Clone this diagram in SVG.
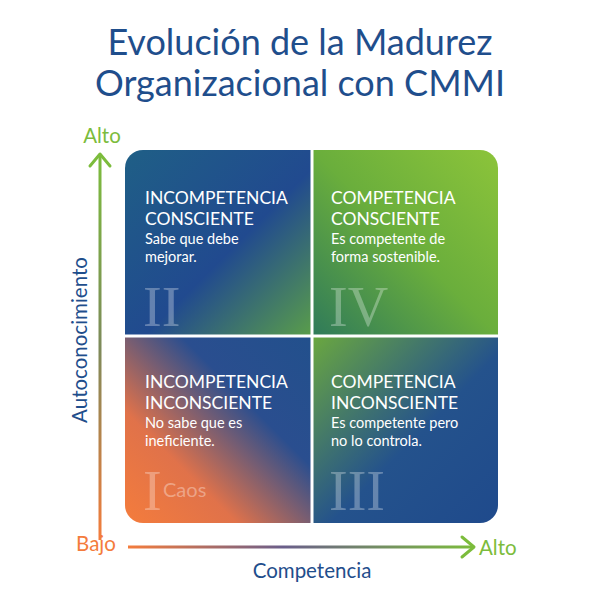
<svg xmlns="http://www.w3.org/2000/svg" width="600" height="600" viewBox="0 0 600 600">
<defs>
<linearGradient id="gTL" x1="0" y1="0" x2="1" y2="1"><stop offset="0" stop-color="#1f5f86"/><stop offset="0.55" stop-color="#214a8f"/><stop offset="1" stop-color="#5a9e4a"/></linearGradient>
<linearGradient id="gTR" x1="0" y1="1" x2="1" y2="0"><stop offset="0" stop-color="#2f7a5a"/><stop offset="0.5" stop-color="#6aae3c"/><stop offset="1" stop-color="#8cc43a"/></linearGradient>
<linearGradient id="gBL" x1="0" y1="1" x2="1" y2="0"><stop offset="0" stop-color="#f47c3c"/><stop offset="0.3" stop-color="#e0724a"/><stop offset="0.65" stop-color="#2a4e8f"/><stop offset="1" stop-color="#22508c"/></linearGradient>
<linearGradient id="gBR" x1="0" y1="0" x2="1" y2="1"><stop offset="0" stop-color="#6ba83f"/><stop offset="0.55" stop-color="#24528c"/><stop offset="1" stop-color="#1f4a8c"/></linearGradient>
<linearGradient id="gV" x1="0" y1="1" x2="0" y2="0"><stop offset="0" stop-color="#f47c3c"/><stop offset="0.5" stop-color="#7d8a5a"/><stop offset="1" stop-color="#7cbc3c"/></linearGradient>
<linearGradient id="gH" x1="0" y1="0" x2="1" y2="0"><stop offset="0" stop-color="#f47c3c"/><stop offset="0.45" stop-color="#6a5e8a"/><stop offset="1" stop-color="#7cbc3c"/></linearGradient>
<clipPath id="c"><rect x="125" y="150" width="373" height="373" rx="18"/></clipPath>
<style>
.t{font-family:Lato,"Open Sans",sans-serif;}
.h{font-family:Lato,sans-serif;font-size:17.5px;fill:#fff;}
.s{font-family:Lato,sans-serif;font-size:14.5px;fill:#fff;}
.r{font-family:"Liberation Serif",serif;font-size:56px;fill:#fff;fill-opacity:0.3;}
</style>
</defs>
<g id="title" class="t" fill="#1f4e8c" font-size="36" text-anchor="middle">
<text x="300" y="55">Evolución de la Madurez</text>
<text x="300" y="96">Organizacional con CMMI</text>
</g>
<g id="matrix" clip-path="url(#c)">
<rect x="125" y="150" width="187" height="186" fill="url(#gTL)"/>
<rect x="312" y="150" width="186" height="186" fill="url(#gTR)"/>
<rect x="125" y="336" width="187" height="187" fill="url(#gBL)"/>
<rect x="312" y="336" width="186" height="187" fill="url(#gBR)"/>
<line x1="312" y1="150" x2="312" y2="523" stroke="#fff" stroke-width="3"/>
<line x1="125" y1="336" x2="498" y2="336" stroke="#fff" stroke-width="3"/>
</g>
<g id="q2"><text class="h" x="145" y="204">INCOMPETENCIA</text><text class="h" x="145" y="225">CONSCIENTE</text><text class="s" x="145" y="244">Sabe que debe</text><text class="s" x="145" y="262">mejorar.</text><text class="r" x="143" y="326">II</text></g>
<g id="q4"><text class="h" x="331" y="204">COMPETENCIA</text><text class="h" x="331" y="225">CONSCIENTE</text><text class="s" x="331" y="244">Es competente de</text><text class="s" x="331" y="262">forma sostenible.</text><text class="r" x="329" y="326">IV</text></g>
<g id="q1"><text class="h" x="145" y="388">INCOMPETENCIA</text><text class="h" x="145" y="409">INCONSCIENTE</text><text class="s" x="145" y="428">No sabe que es</text><text class="s" x="145" y="446">ineficiente.</text><text class="r" x="143" y="510">I</text><text x="163" y="497" font-family="Lato,sans-serif" font-size="20" fill="#fff" fill-opacity="0.35">Caos</text></g>
<g id="q3"><text class="h" x="331" y="388">COMPETENCIA</text><text class="h" x="331" y="409">INCONSCIENTE</text><text class="s" x="331" y="428">Es competente pero</text><text class="s" x="331" y="446">no lo controla.</text><text class="r" x="329" y="510">III</text></g>
<g id="connectors" fill="none" stroke-width="3" stroke-linecap="round" stroke-linejoin="round">
<rect x="98.5" y="155" width="3" height="385" fill="url(#gV)" stroke="none"/>
<polyline points="90,166 100,154 110,166" stroke="#7cbc3c"/>
<rect x="128" y="545.5" width="345" height="3" fill="url(#gH)" stroke="none"/>
<polyline points="462,537 474,547 462,557" stroke="#7cbc3c"/>
</g>
<g id="labels" class="t" font-size="20.5">
<text x="102" y="143" fill="#7cbc3c" text-anchor="middle">Alto</text>
<text x="96" y="551" fill="#f47c3c" text-anchor="middle">Bajo</text>
<text x="479" y="555" fill="#7cbc3c">Alto</text>
<text x="312" y="578" fill="#1f4e8c" text-anchor="middle">Competencia</text>
<text transform="translate(87,340) rotate(-90)" fill="#1f4e8c" text-anchor="middle">Autoconocimiento</text>
</g>
</svg>
